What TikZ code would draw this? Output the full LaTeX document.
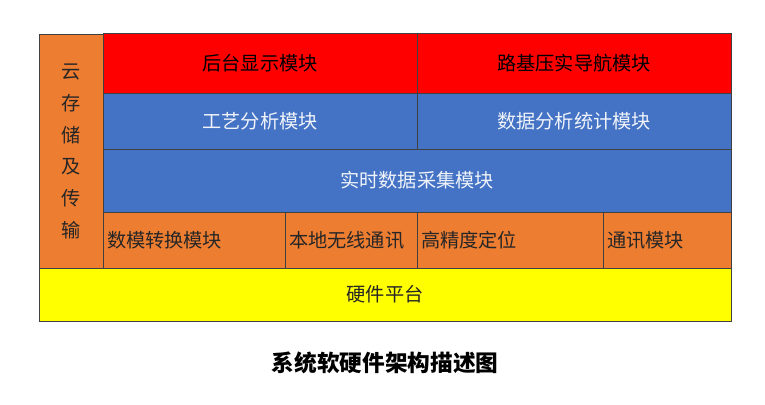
\documentclass[tikz,border=0pt]{standalone}
\usepackage{fontspec}
\setmainfont{Noto Sans CJK SC}
\definecolor{modred}{HTML}{FF0000}
\definecolor{modblue}{HTML}{4472C4}
\definecolor{modorange}{HTML}{ED7D31}
\definecolor{modyellow}{HTML}{FFFF00}
\begin{document}
\begin{tikzpicture}[x=0.75pt, y=-0.75pt, every node/.style={draw=black!75,
					line width=0.6pt, rectangle, inner sep=0pt, font=\fontsize{14.4}{17}\selectfont},
					redcell/.style={fill=modred, text=black, minimum width=235.5pt, minimum height=45pt},
					bluecell/.style={fill=modblue, text=white!92!modblue, minimum height=42pt},
					orangecell/.style={fill=modorange, text=black!85, minimum height=42pt, inner xsep=3pt, align=left}]
		\useasboundingbox (0,0) rectangle (765,404);

		\node[fill=modorange, text=black!85, minimum width=48pt, minimum height=176.25pt, align=center,
			font=\fontsize{14.4}{23.8}\selectfont] (cloud) at (71,151.5) {云\\存\\储\\及\\传\\输};

		\node[redcell] (backend) at (260,63) {后台显示模块};
		\node[redcell] (nav) at (574,63) {路基压实导航模块};

		\node[bluecell, minimum width=235.5pt] (craft) at (260,121) {工艺分析模块};
		\node[bluecell, minimum width=235.5pt] (stats) at (574,121) {数据分析统计模块};
		\node[bluecell, minimum width=471pt, minimum height=47.25pt] (acq) at (417,180.5) {实时数据采集模块};

		\node[orangecell, text width=130.5pt] (adc) at (194,240) {数模转换模块};
		\node[orangecell, text width=93pt] (wireless) at (351,240) {本地无线通讯};
		\node[orangecell, text width=133.5pt] (gnss) at (510,240) {高精度定位};
		\node[orangecell, text width=90pt] (comm) at (667,240) {通讯模块};

		\node[fill=modyellow, text=black!85, minimum width=519pt, minimum height=39.75pt] (hw) at (385,294.5) {硬件平台};

		\node[draw=none, font=\fontsize{17}{20}\selectfont\bfseries] (caption) at (385,363) {系统软硬件架构描述图};
	\end{tikzpicture}
\end{document}
